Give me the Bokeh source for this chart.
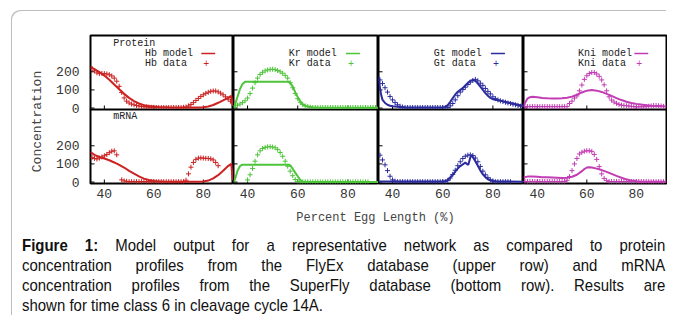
import numpy as np
from bokeh.plotting import figure
from bokeh.models import (Range1d, LinearAxis, FixedTicker, Label, Arrow, Div,
                          Spacer, ColumnDataSource)
from bokeh.layouts import column, row
from bokeh.embed import file_html
from bokeh.resources import INLINE
from bokeh.core.properties import value

nan = float("nan")

# ---------------- data ----------------
genes = ["Hb", "Kr", "Gt", "Kni"]
gene_colors = ["#cc2222", "#4ec43a", "#2c2c9e", "#c23db3"]
row_titles = ["Protein", "mRNA"]
y_ticks = [0, 100, 200]
x_ticks = [40, 60, 80]
x_title = "Percent Egg Length (%)"
y_title = "Concentration"

data_x = [35, 36, 37, 38, 39, 40, 41, 42, 43, 44, 45, 46, 47, 48, 49, 50, 51, 52, 53,
          54, 55, 56, 57, 58, 59, 60, 61, 62, 63, 64, 65, 66, 67, 68, 69, 70, 71, 72,
          73, 74, 75, 76, 77, 78, 79, 80, 81, 82, 83, 84, 85, 86, 87, 88, 89, 90, 91]

# protein (FlyEx) data
hb_protein_data = [218, 205, 194, 190, 191, 190, 188, 184, 177, 165,
                   148, 120, 86, 56, 38, 28, 22, 18, 14, 11,
                   9, 7, 6, 5, 4, 4, 3, 3, 3, 3,
                   3, 3, 3, 3, 3, 3, 3, 4, 6, 12,
                   20, 30, 42, 53, 64, 73, 81, 87, 92, 94,
                   94, 89, 82, 73, 62, 49, 38]
kr_protein_data = [12, 16, 22, 30, 40, 55, 80, 110, 140, 165,
                   185, 197, 205, 210, 213, 214, 212, 207, 200, 192,
                   180, 165, 140, 112, 80, 52, 32, 20, 12, 8,
                   5, 3, 3, 3, 3, 3, 3, 3, 3, 3,
                   3, 3, 3, 3, 3, 3, 3, 3, 3, 3,
                   3, 3, 3, 3, 3, 3, 3]
gt_protein_data = [155, 135, 112, 88, 64, 45, 30, 18, 10, 6,
                   3, 3, 3, 3, 3, 3, 3, 3, 3, 3,
                   3, 3, 3, 3, 3, 3, 3, 3, 12, 25,
                   45, 68, 88, 102, 115, 130, 143, 152, 158, 150,
                   137, 125, 108, 92, 78, 62, 52, 45, 40, 36,
                   32, 28, 25, 21, 18, 14, 10]
kni_protein_data = [8, 8, 8, 8, 8, 8, 8, 8, 8, 8,
                    8, 8, 8, 8, 8, 8, 8, 8, 25, 38,
                    55, 67, 95, 127, 158, 178, 190, 196, 196, 188,
                    175, 155, 128, 95, 62, 44, 33, 26, 20, 16,
                    14, 13, 11, 9, 8, 7, 7, 7, 7, 8,
                    10, 12, 14, 14, 13, 11, 9]

# mRNA (SuperFly) data
hb_mrna_data = [136, 130, 127, 132, 138, 145, 152, 162, 170, 172,
                150, nan, 12, 6, 4, 2, 2, 2, 2, 2,
                2, 2, 2, 2, 2, 2, 2, 2, 2, 2,
                2, 2, 2, 2, 2, 2, 2, 2, 10, 45,
                82, 108, 125, 132, 133, 132, 131, 130, 128, 122,
                108, 90, nan, nan, nan, nan, nan]
kr_mrna_data = [nan, nan, nan, nan, nan, 12, 40, 75, 115, 150,
                172, 185, 191, 194, 195, 193, 189, 180, 163, 142,
                115, 87, 60, 35, 14, 4, 1, 1, 1, 1,
                1, 1, 1, 1, 1, 1, 1, 1, 1, 1,
                1, 1, 1, 1, 1, 1, 1, 1, 1, 1,
                1, 1, 1, 1, nan, nan, nan]
gt_mrna_data = [148, 122, 95, 63, 32, 12, 5, 2, 2, 2,
                2, 2, 2, 2, 2, 2, 2, 2, 2, 2,
                2, 2, 2, 2, 2, 2, 2, 8, 22, 42,
                65, 90, 112, 130, 142, 148, 150, 146, 132, 112,
                86, 60, 40, 24, 12, 6, 2, 2, 2, 2,
                2, 2, 2, nan, nan, nan, nan]
kni_mrna_data = [3, 3, 3, 3, 3, 3, 3, 3, 3, 3,
                 3, 3, 3, 3, 3, 3, 3, 10, 30, 63,
                 100, 130, 155, 164, 170, 173, 172, 169, 152, 125,
                 85, 45, 20, 8, 3, 3, 3, 3, 3, 3,
                 3, 3, 3, 3, 3, 3, 3, 3, 3, 3,
                 2, 2, 2, 2, 2, 2, 2]

# model curves
hb_protein_model_x = [34.4, 36, 38, 40, 42, 44, 46, 48, 50, 52, 54, 56, 58, 60, 62, 64, 66,
                      70, 74, 78, 80, 82, 84, 86, 88, 90, 91.3, 91.9]
hb_protein_model_y = [228, 214, 198, 179, 156, 130, 104, 78, 56, 38, 25, 16, 11, 8, 6, 5, 4,
                      3, 3, 3, 5, 9, 17, 29, 42, 56, 67, 12]
kr_protein_model_x = [34.4, 35, 36, 37, 38, 39, 56.5, 57.3, 58, 59, 60, 61, 62, 63, 64, 66,
                      68, 70, 92.2]
kr_protein_model_y = [0, 18, 62, 105, 133, 145, 145, 133, 118, 88, 60, 36, 20, 12, 8, 5,
                      3, 2, 1]
gt_protein_model_x = [34.4, 35, 35.5, 36, 37, 38, 39, 40, 42, 44, 46, 60, 61, 62, 63, 64, 65,
                      66, 67, 68, 69, 70, 71, 72, 73, 74, 75, 76, 77, 78, 79, 80, 82, 84,
                      86, 88, 90, 92.2]
gt_protein_model_y = [175, 110, 70, 45, 28, 18, 13, 10, 7, 5, 3, 3, 6, 16, 34, 55, 75,
                      90, 100, 110, 124, 138, 150, 155, 150, 135, 118, 100, 83, 68, 56, 49,
                      43, 37, 31, 25, 18, 12]
kni_protein_model_x = [34.4, 35, 36, 37, 38, 40, 42, 44, 46, 48, 50, 52, 54, 56, 58, 60, 62,
                       64, 66, 68, 70, 72, 74, 76, 78, 80, 82, 84, 86, 88, 90, 92.2]
kni_protein_model_y = [12, 28, 52, 60, 62, 59, 56, 54, 53, 53, 54, 57, 63, 73, 86, 96, 99,
                       96, 89, 78, 67, 55, 44, 35, 28, 23, 19, 16, 13, 11, 10, 9]

hb_mrna_model_x = [34.4, 36, 38, 40, 42, 44, 46, 48, 50, 52, 54, 56, 58, 60, 62, 64, 70,
                   76, 80, 82, 84, 86, 88, 90, 91.3, 91.9]
hb_mrna_model_y = [165, 150, 138, 130, 120, 108, 95, 80, 62, 46, 31, 19, 11, 6, 4, 3, 2,
                   2, 3, 8, 20, 38, 62, 88, 100, 10]
kr_mrna_model_x = [34.4, 35, 36, 37, 37.9, 56.5, 57.3, 58, 59, 60, 61, 61.8, 63, 92.2]
kr_mrna_model_y = [0, 15, 62, 88, 96, 96, 88, 73, 52, 32, 12, 3, 0, 0]
gt_mrna_model_x = [34.4, 60, 61, 62, 63, 64, 65, 66, 67, 68, 69, 69.6, 70.2, 71, 71.5, 72,
                   73, 74, 75, 76, 77, 78, 79, 80, 82, 92.2]
gt_mrna_model_y = [3, 3, 6, 12, 24, 40, 58, 75, 88, 97, 108, 100, 95, 135, 148, 138,
                   115, 90, 64, 42, 27, 16, 10, 6, 3, 2]
kni_mrna_model_x = [34.4, 36, 38, 40, 42, 44, 46, 48, 50, 52, 54, 56, 58, 59, 60, 61, 62,
                    64, 66, 68, 70, 72, 74, 76, 78, 80, 82, 84, 92.2]
kni_mrna_model_y = [25, 30, 31, 29, 27, 26, 25, 24, 23, 24, 29, 40, 60, 72, 80, 82, 80,
                    74, 66, 56, 45, 34, 24, 15, 8, 4, 2, 1, 1]

models = [
    [(hb_protein_model_x, hb_protein_model_y), (kr_protein_model_x, kr_protein_model_y),
     (gt_protein_model_x, gt_protein_model_y), (kni_protein_model_x, kni_protein_model_y)],
    [(hb_mrna_model_x, hb_mrna_model_y), (kr_mrna_model_x, kr_mrna_model_y),
     (gt_mrna_model_x, gt_mrna_model_y), (kni_mrna_model_x, kni_mrna_model_y)],
]
datas = [
    [hb_protein_data, kr_protein_data, gt_protein_data, kni_protein_data],
    [hb_mrna_data, kr_mrna_data, gt_mrna_data, kni_mrna_data],
]

caption_lines = [
    "<b>Figure 1:</b> Model output for a representative network as compared to protein",
    "concentration profiles from the FlyEx database (upper row) and mRNA",
    "concentration profiles from the SuperFly database (bottom row). Results are",
    "shown for time class 6 in cleavage cycle 14A.",
]

# ---------------- layout / style ----------------
MONO = "Liberation Mono"
X_RANGE = (34.4, 92.2)
Y_RANGE = (-8, 400)
FRAME_W = [144, 145, 145, 143]
FRAME_H = 74
LEFT_AX = 36
BOTTOM_AX = 24
TOP_SPILL = 7          # room under the top row for its "0" tick label
CARD_W = 655

LEG_TEXT_X = 56.4
LEG_LINE_X0, LEG_LINE_X1 = 79.2, 84.8
LEG_MARK_X = 81.2
LEG_Y_MODEL, LEG_Y_DATA = 301, 248
TITLE_X = 43.6
TITLE_Y = [356, 361]


def make_panel(r, c):
    width = FRAME_W[c] + (LEFT_AX if c == 0 else 0) + (1 if c == 3 else 0)
    height = FRAME_H + (1 + TOP_SPILL if r == 0 else BOTTOM_AX)
    p = figure(width=width, height=height,
               x_range=Range1d(*X_RANGE), y_range=Range1d(*Y_RANGE),
               output_backend="svg", toolbar_location=None,
               x_axis_location=None, y_axis_location=None,
               min_border_left=LEFT_AX if c == 0 else 0,
               min_border_right=1 if c == 3 else 0,
               min_border_top=1 if r == 0 else 0,
               min_border_bottom=TOP_SPILL if r == 0 else BOTTOM_AX)
    p.grid.visible = False
    p.outline_line_color = "black"
    p.outline_line_width = 2
    p.background_fill_color = "white"
    p.border_fill_color = "white"
    if r == 1:
        p.border_fill_alpha = 0.0

    if c == 0:
        yax = LinearAxis(ticker=FixedTicker(ticks=y_ticks),
                         major_tick_line_color=None, minor_tick_line_color=None,
                         major_tick_in=0, major_tick_out=0,
                         minor_tick_in=0, minor_tick_out=0,
                         axis_line_color=None,
                         major_label_text_font=MONO,
                         major_label_text_color="#333333",
                         major_label_text_font_size="13px",
                         major_label_standoff=11)
        p.add_layout(yax, "left")
    if r == 1:
        xax = LinearAxis(ticker=FixedTicker(ticks=x_ticks),
                         major_tick_line_color=None, minor_tick_line_color=None,
                         major_tick_in=0, major_tick_out=0,
                         minor_tick_in=0, minor_tick_out=0,
                         axis_line_color=None,
                         major_label_text_font=MONO,
                         major_label_text_color="#333333",
                         major_label_text_font_size="13px",
                         major_label_standoff=5)
        p.add_layout(xax, "below")

    # inward tick marks (half of each dash is clipped by the frame edge)
    p.scatter([X_RANGE[0]] * len(y_ticks), y_ticks, marker="dash", size=8,
              line_color="black", line_width=1)
    p.scatter(x_ticks, [Y_RANGE[0]] * len(x_ticks), marker="dash", size=8,
              angle=np.pi / 2, line_color="black", line_width=1)

    color = gene_colors[c]
    mx, my = models[r][c]
    p.line(mx, my, line_color=color, line_width=2)
    src = ColumnDataSource(dict(x=np.array(data_x, dtype=float),
                                y=np.array(datas[r][c], dtype=float)))
    p.scatter("x", "y", source=src, marker="cross", size=5,
              line_color=color, line_width=1)

    # key (gnuplot style: text then sample)
    if c == 0:
        p.add_layout(Label(x=TITLE_X, y=TITLE_Y[r], text=row_titles[r],
                           text_font=MONO, text_font_size="10px",
                           text_baseline="middle", text_color="#222222"))
    if r == 0:
        p.add_layout(Label(x=LEG_TEXT_X, y=LEG_Y_MODEL, text=genes[c] + " model",
                           text_font=MONO, text_font_size="10px",
                           text_baseline="middle", text_color="#222222"))
        p.add_layout(Label(x=LEG_TEXT_X, y=LEG_Y_DATA, text=genes[c] + " data",
                           text_font=MONO, text_font_size="10px",
                           text_baseline="middle", text_color="#222222"))
        p.add_layout(Arrow(x_start=LEG_LINE_X0, y_start=LEG_Y_MODEL,
                           x_end=LEG_LINE_X1, y_end=LEG_Y_MODEL,
                           start=None, end=None, line_color=color, line_width=1.5))
        p.add_layout(Label(x=LEG_MARK_X, y=LEG_Y_DATA, text="+",
                           text_font=MONO, text_font_size="10px",
                           text_align="center", text_baseline="middle",
                           text_color=color))
    return p


panels = [[make_panel(r, c) for c in range(4)] for r in range(2)]
grid = column(row(*panels[0]),
              row(*panels[1], margin=(-TOP_SPILL, 0, 0, 0)))

grid_h = (FRAME_H + 1) + (FRAME_H + BOTTOM_AX)
left_w = 77 - LEFT_AX
left_fig = figure(width=left_w, height=grid_h, x_range=Range1d(0, left_w),
                  y_range=Range1d(grid_h, 0), output_backend="svg",
                  toolbar_location=None, x_axis_location=None, y_axis_location=None,
                  min_border=0, outline_line_color=None)
left_fig.grid.visible = False
left_fig.text(x=[25], y=[87], text=[y_title], angle=np.pi / 2,
              text_font=value(MONO), text_font_size="13px",
              text_align="center", text_baseline="middle", text_color="#444444")

xt_h = 29
xt_fig = figure(width=CARD_W, height=xt_h, x_range=Range1d(0, CARD_W),
                y_range=Range1d(xt_h, 0), output_backend="svg",
                toolbar_location=None, x_axis_location=None, y_axis_location=None,
                min_border=0, outline_line_color=None)
xt_fig.grid.visible = False
xt_fig.text(x=[363], y=[10], text=[x_title],
            text_font=value(MONO), text_font_size="12px",
            text_align="center", text_baseline="middle", text_color="#444444")

SCALE = 0.88
inner_w = round(643 / SCALE)
line_divs = []
for i, ln in enumerate(caption_lines):
    last = i == len(caption_lines) - 1
    align = "text-align:left;" if last else "text-align:justify;text-align-last:justify;"
    line_divs.append('<div style="%s white-space:nowrap;">%s</div>' % (align, ln))
caption_html = ('<div style="font-family:\'Liberation Sans\',Arial,sans-serif;'
                'font-size:17px;line-height:20px;color:#111;width:%dpx;'
                'transform:scaleX(%s);transform-origin:0 0;">' % (inner_w, SCALE)
                + "".join(line_divs) + "</div>")
caption = Div(text=caption_html, width=643, height=80, margin=(0, 0, 0, 10))

card = column(
    Spacer(width=CARD_W, height=23),
    row(left_fig, grid),
    xt_fig,
    caption,
    margin=(11, 0, 0, 12),
    styles={"border-top-left-radius": "9px",
            "box-shadow": "-1px -1px 0 0 #bdbdbd"},
)

open("out.html", "w").write(file_html(card, INLINE))
